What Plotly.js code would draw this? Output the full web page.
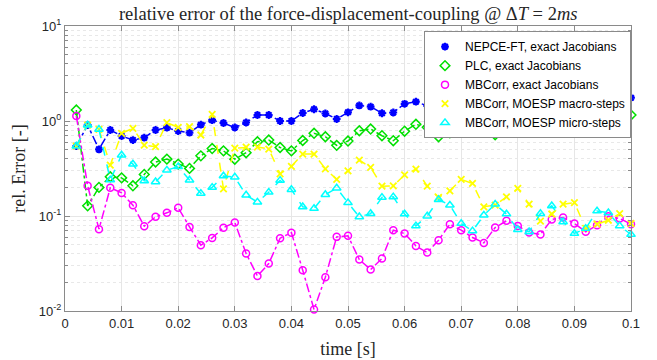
<!DOCTYPE html>
<html>
<head>
<meta charset="utf-8">
<script src="https://cdn.plot.ly/plotly-3.0.1.min.js"></script>
<style>
  html, body { margin: 0; padding: 0; background: #fff; }
  #chart { width: 657px; height: 360px; }
</style>
</head>
<body>
<div id="chart"></div>
<script>
// Macro time steps (dT = 2 ms)
const time = [0.002, 0.004, 0.006, 0.008, 0.010, 0.012, 0.014, 0.016, 0.018, 0.020,
              0.022, 0.024, 0.026, 0.028, 0.030, 0.032, 0.034, 0.036, 0.038, 0.040,
              0.042, 0.044, 0.046, 0.048, 0.050, 0.052, 0.054, 0.056, 0.058, 0.060,
              0.062, 0.064, 0.066, 0.068, 0.070, 0.072, 0.074, 0.076, 0.078, 0.080,
              0.082, 0.084, 0.086, 0.088, 0.090, 0.092, 0.094, 0.096, 0.098, 0.100];

// Relative coupling error per method
const nepceExact = [0.545, 0.907, 0.503, 0.804, 0.695, 0.630, 0.667, 0.804, 0.850, 0.785,
                    0.753, 0.914, 1.020, 0.953, 0.854, 0.964, 1.157, 1.157, 1.000, 1.000,
                    1.214, 1.329, 1.200, 1.050, 1.235, 1.457, 1.415, 1.206, 1.229, 1.518,
                    1.597, 1.439, 1.306, 1.371, 1.625, 1.706, 1.510, 1.370, 1.510, 1.748,
                    1.835, 1.625, 1.475, 1.665, 1.880, 1.790, 1.586, 1.665, 1.835, 1.760];

const plcExact = [1.306, 0.128, 0.200, 0.259, 0.252, 0.208, 0.274, 0.370, 0.397, 0.352,
                  0.317, 0.430, 0.513, 0.485, 0.396, 0.463, 0.605, 0.630, 0.526, 0.485,
                  0.623, 0.742, 0.683, 0.554, 0.615, 0.790, 0.823, 0.700, 0.620, 0.781,
                  0.923, 0.858, 0.683, 0.753, 0.960, 0.960, 0.844, 0.717, 0.897, 1.042,
                  1.005, 0.819, 0.823, 1.024, 1.244, 1.000, 0.823, 1.000, 1.306, 1.157];

const mbcorrExact = [1.129, 0.208, 0.0727, 0.198, 0.175, 0.130, 0.0781, 0.098, 0.108, 0.122,
                     0.0768, 0.0493, 0.0588, 0.0754, 0.0855, 0.0403, 0.0233, 0.0316, 0.0584, 0.0668,
                     0.0269, 0.01037, 0.0227, 0.0603, 0.0618, 0.0348, 0.0273, 0.0357, 0.0709, 0.0655,
                     0.0484, 0.0413, 0.0556, 0.0820, 0.0709, 0.0594, 0.0521, 0.0757, 0.0889, 0.0787,
                     0.0671, 0.0639, 0.0919, 0.0965, 0.0834, 0.0681, 0.0801, 0.0996, 0.0942, 0.0820];

const mbcorrMacro = [0.545, 0.907, 0.818, 0.344, 0.742, 0.838, 0.558, 0.536, 0.960, 0.858,
                     0.871, 0.712, 1.177, 0.193, 0.519, 0.530, 0.532, 0.507, 0.278, 0.333,
                     0.449, 0.449, 0.314, 0.243, 0.299, 0.388, 0.325, 0.206, 0.208, 0.271,
                     0.312, 0.206, 0.157, 0.184, 0.243, 0.220, 0.125, 0.130, 0.159, 0.195,
                     0.133, 0.0883, 0.105, 0.133, 0.138, 0.0739, 0.082, 0.0902, 0.106, 0.0834];

const mbcorrMicro = [0.545, 0.907, 0.818, 0.240, 0.438, 0.352, 0.235, 0.229, 0.304, 0.330,
                     0.239, 0.173, 0.200, 0.264, 0.257, 0.166, 0.140, 0.178, 0.237, 0.190,
                     0.125, 0.120, 0.168, 0.197, 0.138, 0.098, 0.106, 0.157, 0.159, 0.105,
                     0.0787, 0.100, 0.149, 0.130, 0.0834, 0.0697, 0.102, 0.133, 0.105, 0.0718,
                     0.0681, 0.106, 0.128, 0.0868, 0.0655, 0.0739, 0.113, 0.108, 0.0787, 0.0639];

const seriesNames = ['NEPCE-FT, exact Jacobians', 'PLC, exact Jacobians', 'MBCorr, exact Jacobians',
                     'MBCorr, MOESP macro-steps', 'MBCorr, MOESP micro-steps'];

const yTickVals = [0.01, 0.1, 1, 10];
const yTickText = ['10<sup>-2</sup>', '10<sup>-1</sup>', '10<sup>0</sup>', '10<sup>1</sup>'];
const xTickVals = [0, 0.01, 0.02, 0.03, 0.04, 0.05, 0.06, 0.07, 0.08, 0.09, 0.1];
const xTickText = ['0', '0.01', '0.02', '0.03', '0.04', '0.05', '0.06', '0.07', '0.08', '0.09', '0.1'];

const styles = [
  { y: nepceExact,  color: '#0000ff', dash: 'dashdot', symbol: 'asterisk-open',    size: 6.5, mw: 2.2 },
  { y: plcExact,    color: '#00e000', dash: 'dashdot', symbol: 'diamond-open',     size: 7.5, mw: 1.5 },
  { y: mbcorrExact, color: '#ff00ff', dash: 'dashdot', symbol: 'circle-open',      size: 7,   mw: 1.5 },
  { y: mbcorrMacro, color: '#ffff00', dash: 'dash',    symbol: 'x-thin-open',      size: 6.5, mw: 1.8 },
  { y: mbcorrMicro, color: '#00ffff', dash: 'dash',    symbol: 'triangle-up-open', size: 7.5, mw: 1.5 }
];

const traces = [];
styles.forEach((s, i) => {
  traces.push({
    x: time, y: s.y, type: 'scatter', mode: 'lines+markers',
    name: seriesNames[i], showlegend: false, cliponaxis: false,
    line: { color: s.color, width: 1.5, dash: s.dash },
    marker: { symbol: s.symbol, size: s.size, color: s.color, line: { color: s.color, width: s.mw } }
  });
});
// Marker-only legend entries
styles.forEach((s, i) => {
  traces.push({
    x: [null], y: [null], type: 'scatter', mode: 'markers',
    name: seriesNames[i], showlegend: true,
    marker: { symbol: s.symbol, size: s.size, color: s.color, line: { color: s.color, width: s.mw } }
  });
});

const axisCommon = {
  showline: true, mirror: 'ticks', linecolor: '#8a8a8a', linewidth: 1,
  ticks: 'inside', ticklen: 5, tickcolor: '#8a8a8a',
  gridcolor: '#e6e6e6', gridwidth: 1, zeroline: false,
  tickfont: { family: 'Liberation Sans, Arial, sans-serif', size: 13, color: '#262626' }
};

const layout = {
  width: 657, height: 360,
  margin: { l: 65, r: 26, t: 26, b: 49 },
  paper_bgcolor: '#ffffff', plot_bgcolor: '#ffffff',
  title: {
    text: 'relative error of the force-displacement-coupling @ Δ<i>T</i> = 2<i>ms</i>',
    font: { family: 'Liberation Serif, Times New Roman, serif', size: 18.5, color: '#262626' },
    x: 0.53, xanchor: 'center', y: 0.962, yanchor: 'middle'
  },
  xaxis: Object.assign({}, axisCommon, {
    range: [0, 0.1], tickvals: xTickVals, ticktext: xTickText,
    title: { text: 'time [s]', standoff: 12,
             font: { family: 'Liberation Serif, Times New Roman, serif', size: 18, color: '#262626' } }
  }),
  yaxis: Object.assign({}, axisCommon, {
    type: 'log', range: [-2, 1], tickvals: yTickVals, ticktext: yTickText,
    minor: { dtick: 'D1', showgrid: true, gridcolor: '#e8e8e8', griddash: 'dot',
             ticks: 'inside', ticklen: 3, tickcolor: '#8a8a8a' },
    title: { text: 'rel. Error [-]', standoff: 8,
             font: { family: 'Liberation Serif, Times New Roman, serif', size: 18, color: '#262626' } }
  }),
  legend: {
    x: 1, xanchor: 'right', y: 0.982, yanchor: 'top',
    bgcolor: '#ffffff', bordercolor: '#8a8a8a', borderwidth: 1,
    itemwidth: 30, tracegroupgap: 0,
    font: { family: 'Liberation Sans, Arial, sans-serif', size: 12, color: '#000000' }
  }
};

Plotly.newPlot('chart', traces, layout, { staticPlot: true, displayModeBar: false });
</script>
</body>
</html>
